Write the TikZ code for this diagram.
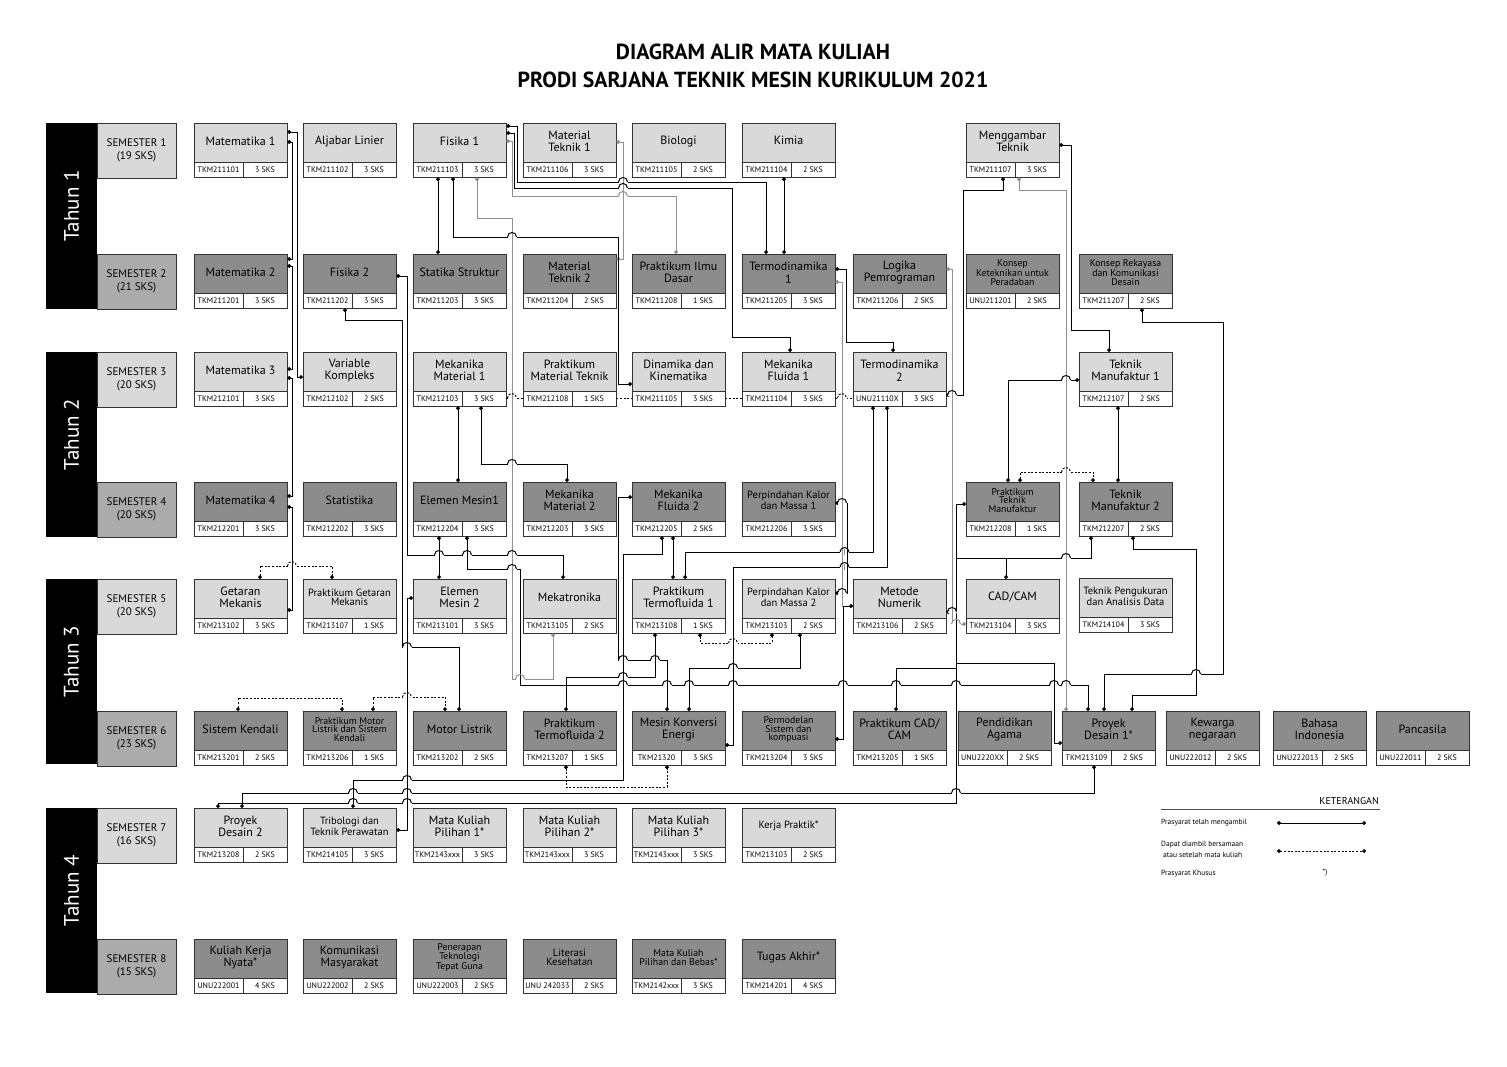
\documentclass[tikz,border=0pt]{standalone}
\usepackage{fontspec}
\setmainfont{PT Sans}
\usetikzlibrary{arrows.meta}
\definecolor{lite}{HTML}{D9D9D9}
\definecolor{dark}{HTML}{8C8C8C}
\definecolor{semg}{HTML}{ABABAB}
\definecolor{lgray}{HTML}{8F8F8F}
\newcommand\ft{\fontsize{12}{12.5}\selectfont}
\newcommand\fm{\fontsize{10.5}{9.5}\selectfont}
\newcommand\fs{\fontsize{9.8}{8.6}\selectfont}
\tikzset{
  boxl/.style={draw=black!80, line width=0.9pt},
  ttl/.style={inner sep=0pt, align=center},
  codef/.style={inner sep=0pt, font=\fontsize{8}{8}\selectfont},
  ln/.style={line width=1pt, draw=black},
  lg/.style={line width=1pt, draw=lgray},
  con/.style={line width=0.9pt, draw=black, dash pattern=on 2pt off 1.6pt},
  pre/.style={ln, {Circle[length=3.8pt]}-{Circle[length=3.8pt]}},
  preg/.style={lg, {Circle[length=3.8pt]}-{Circle[length=3.8pt]}},
  pre1/.style={ln, {Circle[length=3.8pt]}-},
  co/.style={con, {Circle[length=3.8pt]}-{Circle[length=3.8pt]}},
}
% #1 name #2 x #3 y #4 fill #5 title #6 code #7 sks #8 font
\newcommand\course[8]{%
  \path[fill=#4] (#2,#3) rectangle ++(93,39);
  \path[fill=white] (#2,#3+39) rectangle ++(93,15);
  \draw[boxl] (#2,#3) rectangle ++(93,54);
  \draw[boxl] (#2,#3+39) -- ++(93,0) (#2+49,#3+39) -- ++(0,15);
  \node[inner sep=0pt, minimum width=93pt, minimum height=54pt, anchor=north west] (#1) at (#2,#3) {};
  \node[ttl, font=#8] (#1-t) at (#2+46.5,#3+18.5) {#5};
  \node[codef] (#1-c) at (#2+24.5,#3+46.5) {#6};
  \node[codef] (#1-s) at (#2+71,#3+46.5) {#7};
}
\newcommand\semlab[5]{% name y fill text1 text2
  \draw[boxl, fill=#3] (97,#2) rectangle (176,#2+55);
  \node[inner sep=0pt, align=center, font=\fontsize{11}{12.5}\selectfont] (#1) at (136.5,#2+27.5) {#4\\#5};
}
\newcommand\tahun[4]{% name y1 y2 text
  \fill[black] (46,#2) rectangle (97,#3);
  \node[rotate=90, text=white, inner sep=0pt, font=\fontsize{21}{21}\selectfont] (#1) at (71.5,#2/2+#3/2-10) {#4};
}
% hop: horizontal line (style #3) jumps over vertical line (style #4) at (#1,#2)
\newcommand\hop[4]{%
  \draw[white, line width=2.8pt] (#1-4.5,#2) -- (#1+4.5,#2);
  \draw[#4] (#1,#2-3) -- (#1,#2+3);
  \draw[#3] (#1-4.5,#2) .. controls (#1-4.5,#2-6) and (#1+4.5,#2-6) .. (#1+4.5,#2);
}
\newcommand\vfix[3]{\draw[#3] (#1,#2-3) -- (#1,#2+3);}
\begin{document}
\begin{tikzpicture}[x=1pt,y=-1pt]
\useasboundingbox (0,0) rectangle (1507,1066);
\fill[white] (0,0) rectangle (1507,1066);

\node[font=\fontsize{21.8}{21.8}\selectfont\bfseries, inner sep=0pt] (title1) at (753,52) {DIAGRAM ALIR MATA KULIAH};
\node[font=\fontsize{21.8}{21.8}\selectfont\bfseries, inner sep=0pt] (title2) at (753,80) {PRODI SARJANA TEKNIK MESIN KURIKULUM 2021};

% year bars and semester labels
\tahun{th1}{123}{309}{Tahun 1}
\tahun{th2}{352}{537}{Tahun 2}
\tahun{th3}{579}{764}{Tahun 3}
\tahun{th4}{808}{993}{Tahun 4}
\semlab{s1}{123}{lite}{SEMESTER 1}{(19 SKS)}
\semlab{s2}{254}{semg}{SEMESTER 2}{(21 SKS)}
\semlab{s3}{352}{lite}{SEMESTER 3}{(20 SKS)}
\semlab{s4}{482}{semg}{SEMESTER 4}{(20 SKS)}
\semlab{s5}{579}{lite}{SEMESTER 5}{(20 SKS)}
\semlab{s6}{711}{semg}{SEMESTER 6}{(23 SKS)}
\semlab{s7}{808}{lite}{SEMESTER 7}{(16 SKS)}
\semlab{s8}{939}{semg}{SEMESTER 8}{(15 SKS)}

% semester 1
\course{m1}{194}{123}{lite}{Matematika 1}{TKM211101}{3 SKS}{\ft}
\course{al}{303}{123}{lite}{Aljabar Linier}{TKM211102}{3 SKS}{\ft}
\course{f1}{413}{123}{lite}{Fisika 1}{TKM211103}{3 SKS}{\ft}
\course{mt1}{523}{123}{lite}{Material\\Teknik 1}{TKM211106}{3 SKS}{\ft}
\course{bio}{632}{123}{lite}{Biologi}{TKM211105}{2 SKS}{\ft}
\course{ki}{742}{123}{lite}{\raisebox{3pt}{Kimia}}{TKM211104}{2 SKS}{\ft}
\course{mg}{966}{123}{lite}{Menggambar\\Teknik}{TKM211107}{3 SKS}{\ft}
% semester 2
\course{m2}{194}{254}{dark}{Matematika 2}{TKM211201}{3 SKS}{\ft}
\course{f2}{303}{254}{dark}{Fisika 2}{TKM211202}{3 SKS}{\ft}
\course{st}{413}{254}{dark}{Statika Struktur}{TKM211203}{3 SKS}{\ft}
\course{mt2}{523}{254}{dark}{Material\\Teknik 2}{TKM211204}{2 SKS}{\ft}
\course{pid}{632}{254}{dark}{Praktikum Ilmu\\Dasar}{TKM211208}{1 SKS}{\ft}
\course{t1}{742}{254}{dark}{Termodinamika\\1}{TKM211205}{3 SKS}{\ft}
\course{lp}{853}{254}{dark}{Logika\\Pemrograman}{TKM211206}{2 SKS}{\ft}
\course{kk}{966}{254}{dark}{Konsep\\Keteknikan untuk\\Peradaban}{UNU211201}{2 SKS}{\fs}
\course{kr}{1079}{254}{dark}{Konsep Rekayasa\\dan Komunikasi\\Desain}{TKM211207}{2 SKS}{\fs}
% semester 3
\course{m3}{194}{352}{lite}{Matematika 3}{TKM212101}{3 SKS}{\ft}
\course{vk}{303}{352}{lite}{Variable\\Kompleks}{TKM212102}{2 SKS}{\ft}
\course{mm1}{413}{352}{lite}{Mekanika\\Material 1}{TKM212103}{3 SKS}{\ft}
\course{pmt}{523}{352}{lite}{Praktikum\\Material Teknik}{TKM212108}{1 SKS}{\ft}
\course{dk}{632}{352}{lite}{Dinamika dan\\Kinematika}{TKM211105}{3 SKS}{\ft}
\course{mf1}{742}{352}{lite}{Mekanika\\Fluida 1}{TKM211104}{3 SKS}{\ft}
\course{t2}{853}{352}{lite}{Termodinamika\\2}{UNU21110X}{3 SKS}{\ft}
\course{tm1}{1079}{352}{lite}{Teknik\\Manufaktur 1}{TKM212107}{2 SKS}{\ft}
% semester 4
\course{m4}{194}{482}{dark}{Matematika 4}{TKM212201}{3 SKS}{\ft}
\course{sta}{303}{482}{dark}{Statistika}{TKM212202}{3 SKS}{\ft}
\course{em1}{413}{482}{dark}{Elemen Mesin1}{TKM212204}{3 SKS}{\ft}
\course{mm2}{523}{482}{dark}{Mekanika\\Material 2}{TKM212203}{3 SKS}{\ft}
\course{mf2}{632}{482}{dark}{Mekanika\\Fluida 2}{TKM212205}{2 SKS}{\ft}
\course{pk1}{742}{482}{dark}{Perpindahan Kalor\\dan Massa 1}{TKM212206}{3 SKS}{\fm}
\course{ptm}{966}{482}{dark}{Praktikum\\Teknik\\Manufaktur}{TKM212208}{1 SKS}{\fs}
\course{tm2}{1079}{482}{dark}{Teknik\\Manufaktur 2}{TKM212207}{2 SKS}{\ft}
% semester 5
\course{gm}{194}{579}{lite}{Getaran\\Mekanis}{TKM213102}{3 SKS}{\ft}
\course{pgm}{303}{579}{lite}{Praktikum Getaran\\Mekanis}{TKM213107}{1 SKS}{\fm}
\course{em2}{413}{579}{lite}{Elemen\\Mesin 2}{TKM213101}{3 SKS}{\ft}
\course{mek}{523}{579}{lite}{Mekatronika}{TKM213105}{2 SKS}{\ft}
\course{ptf1}{632}{579}{lite}{Praktikum\\Termofluida 1}{TKM213108}{1 SKS}{\ft}
\course{pk2}{742}{579}{lite}{Perpindahan Kalor\\dan Massa 2}{TKM213103}{2 SKS}{\fm}
\course{mn}{853}{579}{lite}{Metode\\Numerik}{TKM213106}{2 SKS}{\ft}
\course{cad}{966}{579}{lite}{CAD/CAM}{TKM213104}{3 SKS}{\ft}
\course{tp}{1079}{578}{lite}{Teknik Pengukuran\\dan Analisis Data}{TKM214104}{3 SKS}{\fm}
% semester 6
\course{sk}{194}{711}{dark}{Sistem Kendali}{TKM213201}{2 SKS}{\ft}
\course{pml}{303}{711}{dark}{Praktikum Motor\\Listrik dan Sistem\\Kendali}{TKM213206}{1 SKS}{\fs}
\course{ml}{413}{711}{dark}{Motor Listrik}{TKM213202}{2 SKS}{\ft}
\course{ptf2}{523}{711}{dark}{Praktikum\\Termofluida 2}{TKM213207}{1 SKS}{\ft}
\course{mke}{632}{711}{dark}{Mesin Konversi\\Energi}{TKM21320}{3 SKS}{\ft}
\course{pms}{742}{711}{dark}{Permodelan\\Sistem dan\\kompuasi}{TKM213204}{3 SKS}{\fs}
\course{pcad}{853}{711}{dark}{Praktikum CAD/\\CAM}{TKM213205}{1 SKS}{\ft}
\course{pag}{958}{711}{dark}{Pendidikan\\Agama}{UNU2220XX}{2 SKS}{\ft}
\course{pd1}{1062}{711}{dark}{Proyek\\Desain 1*}{TKM213109}{2 SKS}{\ft}
\course{kw}{1166}{711}{dark}{Kewarga\\negaraan}{UNU222012}{2 SKS}{\ft}
\course{bi}{1273}{711}{dark}{Bahasa\\Indonesia}{UNU222013}{2 SKS}{\ft}
\course{pnc}{1376}{711}{dark}{Pancasila}{UNU222011}{2 SKS}{\ft}
% semester 7
\course{pd2}{194}{808}{lite}{Proyek\\Desain 2}{TKM213208}{2 SKS}{\ft}
\course{tri}{303}{808}{lite}{Tribologi dan\\Teknik Perawatan}{TKM214105}{3 SKS}{\fm}
\course{mk1}{413}{808}{lite}{Mata Kuliah\\Pilihan 1*}{TKM2143xxx}{3 SKS}{\ft}
\course{mk2}{523}{808}{lite}{Mata Kuliah\\Pilihan 2*}{TKM2143xxx}{3 SKS}{\ft}
\course{mk3}{632}{808}{lite}{Mata Kuliah\\Pilihan 3*}{TKM2143xxx}{3 SKS}{\ft}
\course{kp}{742}{808}{lite}{\raisebox{3pt}{Kerja Praktik*}}{TKM213103}{2 SKS}{\fm}
% semester 8
\course{kkn}{194}{939}{dark}{Kuliah Kerja\\Nyata*}{UNU222001}{4 SKS}{\ft}
\course{kom}{303}{939}{dark}{Komunikasi\\Masyarakat}{UNU222002}{2 SKS}{\ft}
\course{ptg}{413}{939}{dark}{Penerapan\\Teknologi\\Tepat Guna}{UNU222003}{2 SKS}{\fs}
\course{lk}{523}{939}{dark}{Literasi\\Kesehatan}{UNU 242033}{2 SKS}{\fm}
\course{mkb}{632}{939}{dark}{Mata Kuliah\\Pilihan dan Bebas*}{TKM2142xxx}{3 SKS}{\fs}
\course{ta}{742}{939}{dark}{Tugas Akhir*}{TKM214201}{4 SKS}{\ft}

% ---------- connectors ----------
% mathematics chain
\draw[pre] (m1.east|-0,142) -- (292,142) -- (292,259) -- (m2.east|-0,259);
\draw[pre] (m1.east|-0,132) -- (297,132) -- (297,377) -- (vk.west|-0,377);
\draw[pre] (m2.east|-0,266) -- (292,266) -- (292,369) -- (m3.east|-0,369);
\draw[pre] (m3.east|-0,378) -- (292,378) -- (292,496) -- (m4.east|-0,496);
\draw[pre] (m4.east|-0,507) -- (292,507) -- (292,610) -- (gm.east|-0,610);
\draw[co] (gm.north-|260,0) -- (260,566) -- (332,566) -- (pgm.north-|332,0);
% fisika 1
\draw[pre] (f1.south-|438,0) -- (st.north-|438,0);
\draw[preg] (mt1.east|-0,142) -- (623,142) -- (623,259) -- (mt2.east|-0,259);
\draw[preg] (f1.south-|477,0) -- (477,218) -- (512,218) -- (512,679) -- (553,679) -- (mek.south-|553,0);
\draw[pre] (f1.south-|453,0) -- (453,237) -- (618,237) -- (618,384) -- (dk.west|-0,384);
\draw[pre] (f1.east|-0,126) -- (517,126) -- (517,182) -- (766,182) -- (t1.north-|766,0);
\draw[pre] (f1.east|-0,133) -- (514.5,133) -- (514.5,188) -- (732,188) -- (732,337) -- (790,337) -- (mf1.north-|790,0);
\draw[preg] (f1.east|-0,141) -- (512,141) -- (512,196) -- (676,196) -- (pid.north-|676,0);
\draw[pre] (ki.south-|784,0) -- (t1.north-|784,0);
% termodinamika
\draw[pre] (t1.east|-0,269) -- (846,269) -- (846,342) -- (893,342) -- (t2.north-|893,0);
\draw[preg] (t1.east|-0,282) -- (842,282) -- (842,606) -- (mn.west|-0,606);
\draw[pre] (mn.west|-0,606) -- (843,606) -- (843,739) -- (pms.east|-0,739);
\draw[pre] (pk1.east|-0,503) -- (847,503) -- (847,593) -- (pk2.east|-0,593);
\draw[pre] (t2.south-|873,0) -- (873,552) -- (685,552) -- (ptf1.north-|685,0);
\draw[pre] (t2.south-|887,0) -- (887,567) -- (733,567) -- (733,745) -- (mke.east|-0,745);
\draw[preg] (lp.east|-0,269) -- (952,269) -- (952,624) -- (cad.west|-0,624);
% menggambar teknik & manufaktur
\draw[pre] (mg.south-|1003,0) -- (1003,190) -- (963,190) -- (963,395) -- (t2.east|-0,395);
\draw[preg] (mg.south-|1019,0) -- (1019,190) -- (1066,190) -- (pd1.north-|1066,0);
\draw[pre] (mg.east|-0,145) -- (1071,145) -- (1071,330) -- (1109,330) -- (tm1.north-|1109,0);
\draw[pre] (kr.south-|1142,0) -- (1142,322) -- (1223,322) -- (1223,674) -- (1104,674) -- (pd1.north-|1104,0);
\draw[pre] (tm2.south-|1133,0) -- (1133,549) -- (1196,549) -- (1196,695) -- (1132,695) -- (pd1.north-|1132,0);
\draw[pre] (tm1.south-|1118,0) -- (tm2.north-|1118,0);
\draw[pre] (tm1.west|-0,380) -- (1008,380) -- (ptm.north-|1008,0);
\draw[co] (ptm.north-|1020,0) -- (1020,472) -- (1093,472) -- (tm2.north-|1093,0);
\draw[pre] (tm2.south-|1091,0) -- (1091,558) -- (1006,558) -- (cad.north-|1006,0);
\draw[ln] (1006,558) -- (956,558);
\draw[pre] (ptm.west|-0,504) -- (956,504) -- (956,803) -- (218,803) -- (pd2.north-|218,0);
\draw[pre1] (mn.east|-0,612) -- (956,612);
\draw[pre1] (pcad.north-|896,0) -- (896,668) -- (956,668);
\draw[pre1] (pd1.west|-0,743) -- (1054,743) -- (1054,663) -- (956,663);
\draw[pre] (pd1.south-|1094,0) -- (1094,793) -- (242,793) -- (pd2.north-|242,0);
% mekanika / elemen mesin
\draw[pre] (mm1.south-|458,0) -- (em1.north-|458,0);
\draw[pre] (mm1.south-|481,0) -- (481,464) -- (567,464) -- (mm2.north-|567,0);
\draw[pre] (em1.south-|439,0) -- (em2.north-|439,0);
\draw[pre] (em1.south-|467,0) -- (467,569) -- (520,569) -- (520,685) -- (1088,685) -- (pd1.north-|1088,0);
\draw[pre] (f2.east|-0,276) -- (407,276) -- (407,555) -- (563,555) -- (mek.north-|563,0);
\draw[pre] (f2.south-|345,0) -- (345,320) -- (402,320) -- (402,647) -- (459,647) -- (ml.north-|459,0);
\draw[pre] (em2.west|-0,598) -- (407,598) -- (407,830) -- (tri.east|-0,830);
% fluida
\draw[pre] (mf2.south-|673,0) -- (ptf1.north-|673,0);
\draw[pre] (mf2.south-|662,0) -- (662,554) -- (623,554) -- (623,780) -- (353,780) -- (tri.north-|353,0);
\draw[pre] (mf2.west|-0,497) -- (618,497) -- (618,660) -- (667,660) -- (mke.north-|667,0);
\draw[pre] (ptf1.south-|655,0) -- (655,677) -- (566,677) -- (ptf2.north-|566,0);
\draw[pre] (pk2.south-|800,0) -- (800,668) -- (689,668) -- (mke.north-|689,0);
% dashed (co-requisite)
\draw[co] (ptf1.south-|700,0) -- (700,643) -- (772,643) -- (pk2.south-|772,0);
\draw[co] (ptf2.south-|566,0) -- (566,787) -- (667,787) -- (mke.south-|667,0);
\draw[co] (sk.north-|238,0) -- (238,698) -- (342,698) -- (pml.north-|342,0);
\draw[co] (pml.north-|373,0) -- (373,697) -- (445,697) -- (ml.north-|445,0);
\draw[con] (mm1.east|-0,398) -- (pmt.west|-0,398);
\draw[con] (pmt.east|-0,398) -- (dk.west|-0,398);
\draw[con] (dk.east|-0,398) -- (mf1.west|-0,398);
\draw[con] (mf1.east|-0,398) -- (t2.west|-0,398);

% ---------- line hops ----------
\hop{623}{182}{ln}{lg} \hop{623}{188}{ln}{lg} \hop{623}{196}{lg}{lg}
\hop{512}{237}{ln}{lg} \hop{512}{464}{ln}{lg} \hop{512}{398}{con}{lg}
\hop{439}{555}{ln}{ln} \hop{467}{555}{ln}{ln} \hop{512}{555}{ln}{lg}
\hop{512}{569}{ln}{lg} \hop{520}{679}{lg}{ln}
\hop{407}{647}{ln}{ln} \hop{407}{697}{con}{ln} \hop{292}{566}{con}{ln}
\hop{623}{685}{ln}{ln} \hop{667}{685}{ln}{ln} \hop{689}{685}{ln}{ln} \hop{733}{685}{ln}{ln}
\hop{843}{685}{ln}{ln} \hop{896}{685}{ln}{ln} \hop{956}{685}{ln}{ln} \hop{1054}{685}{ln}{ln} \hop{1066}{685}{ln}{lg}
\hop{623}{677}{ln}{ln} \hop{623}{660}{ln}{ln} \hop{655}{660}{ln}{ln}
\hop{733}{668}{ln}{ln} \hop{733}{643}{con}{ln}
\hop{844.5}{552}{ln}{lg} \vfix{847}{552}{ln} \vfix{842}{552}{lg}
\hop{844.5}{567}{ln}{lg} \vfix{847}{567}{ln} \vfix{842}{567}{lg}
\hop{842}{398}{con}{lg} \hop{842}{503}{ln}{lg} \hop{842}{593}{ln}{lg}
\hop{407}{780}{ln}{ln}
\hop{353}{793}{ln}{ln} \hop{407}{793}{ln}{ln} \hop{956}{793}{ln}{ln}
\hop{353}{803}{ln}{ln} \hop{407}{803}{ln}{ln}
\hop{1196}{674}{ln}{ln} \hop{1066}{558}{ln}{lg} \hop{1066}{380}{ln}{lg} \hop{1066}{472}{con}{lg}
\hop{952}{395}{ln}{lg} \hop{956}{624}{lg}{ln} \hop{952}{612}{ln}{lg}

% ---------- legend ----------
\node[anchor=east, inner sep=0pt, font=\fontsize{10}{10}\selectfont] (legT) at (1379,801) {KETERANGAN};
\draw[line width=0.8pt, black!70] (1161,809) -- (1380,809);
\node[anchor=west, inner sep=0pt, font=\fontsize{7.5}{7.5}\selectfont] (leg1) at (1161,823) {Prasyarat telah mengambil};
\node[anchor=west, inner sep=0pt, align=left, font=\fontsize{7.5}{11}\selectfont] (leg2) at (1161,849) {Dapat diambil bersamaan\\\ atau setelah mata kuliah};
\node[anchor=west, inner sep=0pt, font=\fontsize{7.5}{7.5}\selectfont] (leg3) at (1161,874) {Prasyarat Khusus};
\node[inner sep=0pt, font=\fontsize{7.5}{7.5}\selectfont] (leg4) at (1325,873) {*)};
\coordinate (la1) at (1277,823); \coordinate (lb1) at (1366,823);
\coordinate (la2) at (1277,851); \coordinate (lb2) at (1366,851);
\draw[pre] (la1) -- (lb1);
\draw[co] (la2) -- (lb2);
\end{tikzpicture}
\end{document}
